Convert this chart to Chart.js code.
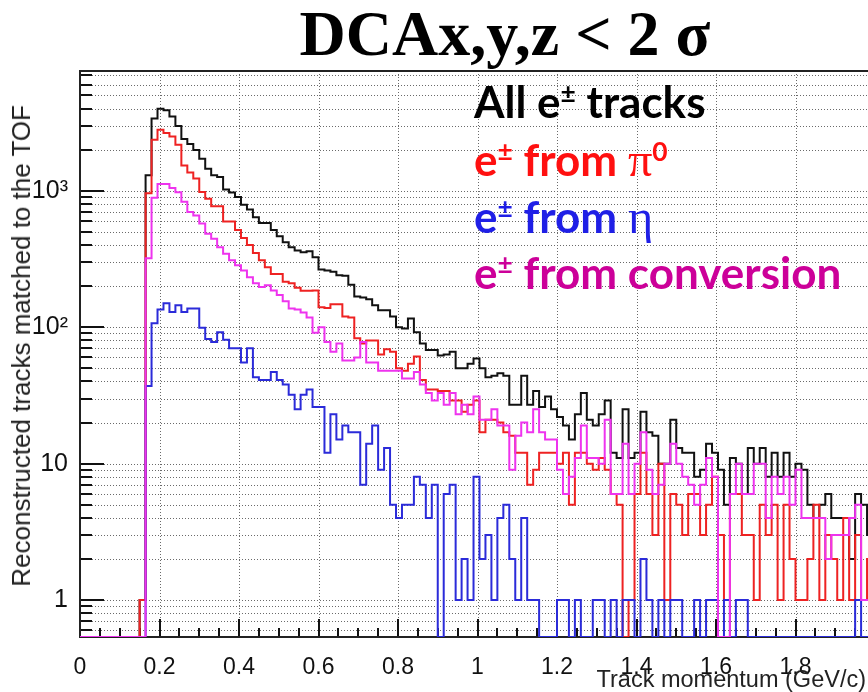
<!DOCTYPE html>
<html><head><meta charset="utf-8">
<script src="https://cdn.jsdelivr.net/npm/chart.js@4/dist/chart.umd.min.js"></script>
<style>
html,body{margin:0;padding:0;background:#fff;overflow:hidden;width:868px;height:692px}
#wrap{position:relative;width:868px;height:692px;overflow:hidden;background:#fff}
canvas{position:absolute;left:0;top:0}
.t{position:absolute;white-space:nowrap;line-height:1}
#title{font-family:"Liberation Serif",serif;font-weight:bold;font-size:64px;left:505px;top:2px;transform:translateX(-50%);color:#000}
.leg{font-family:Lato,"Open Sans",sans-serif;font-weight:bold;font-size:44px;left:474px}
.sup{font-size:0.6em;position:relative;top:-0.58em}
.gr{font-family:"Liberation Serif",serif;font-weight:normal;font-size:1.1em}
#ytitle{font-family:"Liberation Sans",Arial,sans-serif;font-size:26px;left:21px;top:105px;transform-origin:0 0;transform:rotate(-90deg) translate(-100%,-50%);color:#222}
#xtitle{font-family:"Liberation Sans",Arial,sans-serif;font-size:23.5px;right:2px;top:668px;color:#222}
</style></head><body>
<div id="wrap">
<canvas id="c" width="900" height="692"></canvas>
<div class="t" id="title">DCAx,y,z &lt; 2 σ</div>
<div class="t leg" style="top:79px;color:#000">All e<span class="sup">±</span> tracks</div>
<div class="t leg" style="top:136px;color:#ff1010">e<span class="sup">±</span> from <span class="gr">π</span><span class="sup">0</span></div>
<div class="t leg" style="top:193px;color:#1f1fe6">e<span class="sup">±</span> from <span class="gr">η</span></div>
<div class="t leg" style="top:250px;color:#cc0099">e<span class="sup">±</span> from conversion</div>
<div class="t" id="ytitle">Reconstructed tracks matched to the TOF</div>
<div class="t" id="xtitle">Track momentum (GeV/c)</div>
</div>
<script>
// ---- histogram binning (bins start at 0.15 GeV/c, width 0.015 GeV/c) ----
const binStart = 0.15;
const binWidth = 0.015;

// ---- series values, one per bin ----
const allTracks = [
 1,1300,3380,4000,3900,3500,2980,2400,2200,1990,
 1720,1450,1300,1260,1020,970,900,790,730,640,
 580,580,515,465,420,385,365,355,360,325,
 265,260,255,240,238,205,168,165,160,145,
 133,133,120,100,98,116,92,76,68,68,
 62,63,66,50,50,54,59,50,43,44,
 46,44,27,27,44,27,34,26,31,25,
 22,19,15,23,33,21,19,23,29,12,
 11,25,11,12,24,17,16,10,10,21,
 13,12,12,8,9,14,12,9,5,11,
 10,6,13,10,13,8,12,8,12,8,
 10,9,5,4,5,6,4,4,4,2,
 6,5,3];
const fromPi0 = [
 1,960,2370,2800,2650,2500,2170,1530,1360,1230,
 980,875,770,770,595,595,515,450,400,350,
 310,275,245,245,215,210,195,185,185,186,
 140,138,147,147,120,118,83,76,80,80,
 63,69,66,50,48,54,61,41,35,35,
 34,34,29,29,24,27,29,17,21,21,
 20,17,16,12,12,7,9,12,12,12,
 10,12,5,12,12,10,9,11,9,6,
 5,0,1,6,12,6,3,10,1,6,
 5,3,6,6,3,5,8,3,1,6,
 6,3,3,1,5,3,5,1,5,2,
 1,1,2,5,1,3,2,1,4,1,
 3,1,2];
const fromEta = [
 0,37,107,135,150,129,145,129,137,137,
 99,82,78,92,81,70,70,55,70,43,
 41,41,47,41,38,32,25,32,35,26,
 26,12,23,15,19,17,17,7,14,19,
 9,13,5,4,5,5,8,7,4,7,
 0,6,7,1,2,1,8,2,3,1,
 4,5,2,1,4,1,1,0,0,0,
 1,1,0,1,0,0,1,1,0,1,
 0,1,1,0,2,1,0,1,0,1,
 1,0,0,1,0,1,1,0,1,0,
 1,1,0,0,0,0,0,0,0,0,
 0,0,0,0,0,0,0,0,0,0,
 1,0,0];
const fromConversion = [
 0,320,890,1120,1120,1050,975,830,700,660,
 575,485,445,385,345,310,285,260,232,210,
 197,203,186,172,155,137,135,128,118,91,
 100,78,66,76,57,57,60,78,55,55,
 48,48,48,48,42,42,47,38,33,29,
 33,27,33,23,27,23,31,21,21,25,
 19,19,9,16,20,17,25,17,15,15,
 9,6,8,11,19,11,11,10,21,6,
 6,14,6,10,17,9,6,7,10,14,
 10,8,7,5,7,11,8,0,0,6,
 10,6,6,10,10,4,8,6,8,5,
 9,4,4,4,4,2,3,3,3,4,
 5,1,1];

// ---- axes ----
const xTickValues = [0,0.2,0.4,0.6,0.8,1,1.2,1.4,1.6,1.8,2];
const xTickLabels = ['0','0.2','0.4','0.6','0.8','1','1.2','1.4','1.6','1.8','2'];
const yTickValues = [1,10,100,1000];
const yTickLabels = ['1','10','10²','10³'];
const yMin = 0.536, yMax = 7550;

function histPoints(vals){
  const pts = [{x:0, y:yMin}];
  vals.forEach((v,i)=>pts.push({x:+(binStart+i*binWidth).toFixed(4), y: v>0 ? v : yMin}));
  const last = vals[vals.length-1];
  pts.push({x:+(binStart+vals.length*binWidth).toFixed(4), y: last>0 ? last : yMin});
  return pts;
}

// grid values at every log sub-division (ROOT style)
const yGridValues = [];
[0.1,1,10,100,1000].forEach(d=>{for(let m=1;m<=9;m++){const v=+(m*d).toPrecision(3); if(v>yMin && v<yMax) yGridValues.push(v);}});
const xMinorValues = [];
for(let i=0;i<=40;i++) xMinorValues.push(+(i*0.05).toFixed(2));

const rootFrame = {
  id:'rootFrame',
  beforeDatasetsDraw(chart){
    const {ctx, chartArea:a, scales:{x,y}} = chart;
    ctx.save();
    ctx.strokeStyle='#6a6a6a'; ctx.lineWidth=1; ctx.setLineDash([1,2]);
    yGridValues.forEach(v=>{
      const p=Math.round(y.getPixelForValue(v))+0.5;
      ctx.beginPath(); ctx.moveTo(a.left,p); ctx.lineTo(a.right,p); ctx.stroke();
    });
    xTickValues.forEach(v=>{
      const p=Math.round(x.getPixelForValue(v))+0.5;
      ctx.beginPath(); ctx.moveTo(p,a.top); ctx.lineTo(p,a.bottom); ctx.stroke();
    });
    ctx.setLineDash([]);
    ctx.strokeStyle='#111'; ctx.lineWidth=2;
    yGridValues.forEach(v=>{
      const major = yTickValues.includes(v);
      const p=Math.round(y.getPixelForValue(v));
      ctx.beginPath(); ctx.moveTo(a.left,p); ctx.lineTo(a.left+(major?24:12),p); ctx.stroke();
    });
    xMinorValues.forEach(v=>{
      const major = Math.abs(v*5-Math.round(v*5))<1e-6;
      const p=Math.round(x.getPixelForValue(v));
      ctx.beginPath(); ctx.moveTo(p,a.bottom); ctx.lineTo(p,a.bottom-(major?18:9)); ctx.stroke();
    });
    ctx.strokeStyle='#222'; ctx.lineWidth=2;
    ctx.strokeRect(a.left, a.top, a.right-a.left, a.bottom-a.top);
    ctx.restore();
  }
};

const mk = (label, vals, color) => ({
  label, data: histPoints(vals), borderColor: color, backgroundColor: color,
  borderWidth: 2, stepped: 'before', pointRadius: 0, fill: false, tension: 0
});

new Chart(document.getElementById('c'), {
  type:'line',
  data:{ datasets:[
    mk('e± from conversion', fromConversion, '#ee33ee'),
    mk('e± from η', fromEta, '#2b2bd9'),
    mk('e± from π0', fromPi0, '#ee2222'),
    mk('All e± tracks', allTracks, '#111111')
  ]},
  options:{
    responsive:false, animation:false, devicePixelRatio:1,
    layout:{padding:{top:71,right:25,left:0,bottom:0}},
    plugins:{legend:{display:false}, tooltip:{enabled:false}},
    scales:{
      x:{type:'linear', min:0, max:2,
        grid:{display:false}, border:{display:false},
        afterBuildTicks:s=>{s.ticks=xTickValues.map(v=>({value:v}));},
        afterFit:s=>{s.height=55;},
        ticks:{autoSkip:false, maxRotation:0, padding:9, color:'#111',
          font:{family:'"Liberation Sans", Arial, sans-serif', size:23},
          callback:(v)=>{const i=xTickValues.indexOf(+(+v).toFixed(2)); return i>=0?xTickLabels[i]:'';}}
      },
      y:{type:'logarithmic', min:yMin, max:yMax,
        grid:{display:false}, border:{display:false},
        afterBuildTicks:s=>{s.ticks=yTickValues.map(v=>({value:v}));},
        afterFit:s=>{s.width=80;},
        ticks:{autoSkip:false, padding:4, color:'#111',
          font:{family:'"Liberation Sans", Arial, sans-serif', size:25},
          callback:(v)=>{const i=yTickValues.indexOf(+v); return i>=0?yTickLabels[i]:'';}}
      }
    }
  },
  plugins:[rootFrame]
});
</script>
</body></html>
